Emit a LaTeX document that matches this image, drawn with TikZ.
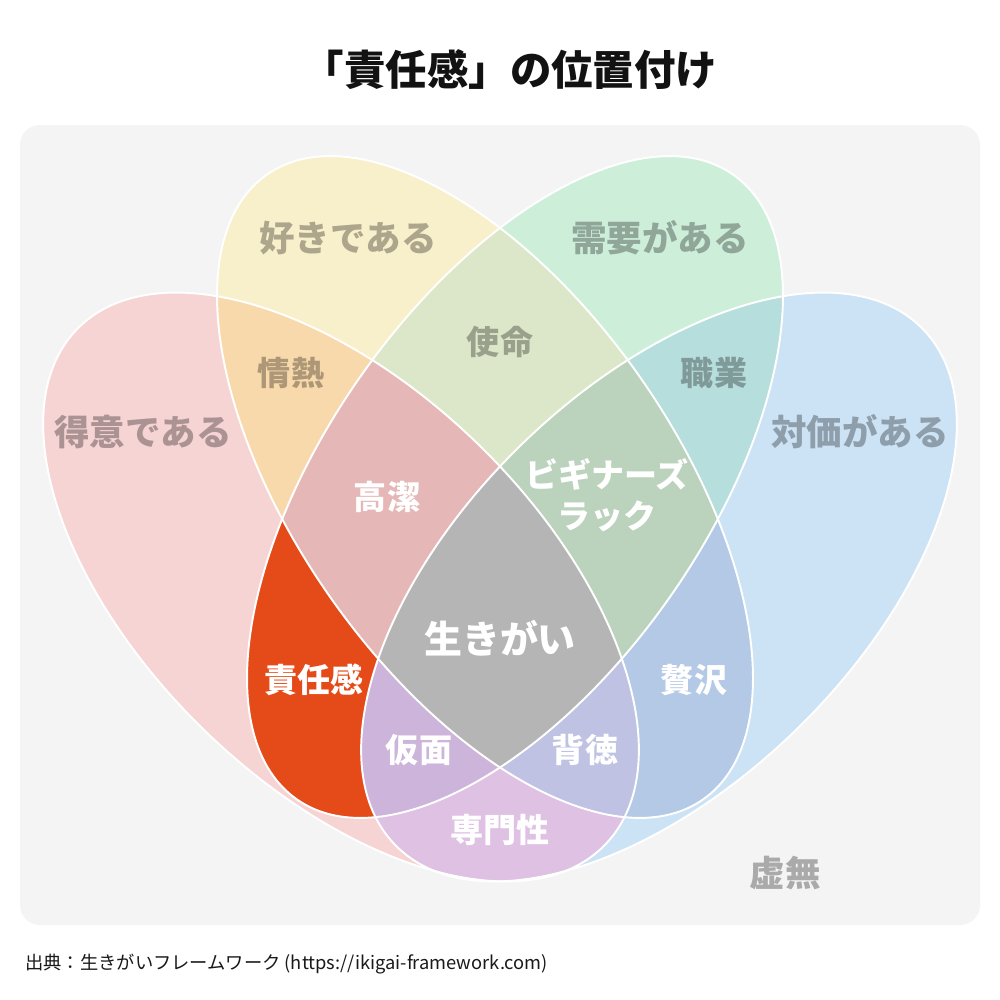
\documentclass[tikz,border=0pt]{standalone}
\usepackage{fontspec}
\setmainfont{Noto Sans CJK JP}

% 色
\definecolor{panel}{HTML}{F4F4F4}
\definecolor{colA}{HTML}{F7D4D4}
\definecolor{colB}{HTML}{F8EFCB}
\definecolor{colC}{HTML}{CDEFDA}
\definecolor{colD}{HTML}{CCE3F6}
\definecolor{colAB}{HTML}{F8D9AB}
\definecolor{colBC}{HTML}{DCE7C9}
\definecolor{colCD}{HTML}{B6DEDC}
\definecolor{colAC}{HTML}{E54B19}
\definecolor{colBD}{HTML}{B3C9E6}
\definecolor{colAD}{HTML}{DFC1E3}
\definecolor{colABC}{HTML}{E6B7B7}
\definecolor{colBCD}{HTML}{BBD2BC}
\definecolor{colACD}{HTML}{CCB4DA}
\definecolor{colABD}{HTML}{BFC2E2}
\definecolor{colABCD}{HTML}{B5B5B5}

% 四つの楕円（A 得意, B 好き, C 需要, D 対価）
\newcommand{\setA}[1]{\path[#1, rotate around={-44.4:(341,-587)}] (341,-587) ellipse [x radius=369, y radius=198];}
\newcommand{\setB}[1]{\path[#1, rotate around={-55.1:(485,-487)}] (485,-487) ellipse [x radius=381, y radius=190];}
\newcommand{\setC}[1]{\path[#1, rotate around={55.1:(515,-487)}] (515,-487) ellipse [x radius=381, y radius=190];}
\newcommand{\setD}[1]{\path[#1, rotate around={44.4:(659,-587)}] (659,-587) ellipse [x radius=369, y radius=198];}

\begin{document}
\begin{tikzpicture}[x=0.2mm, y=0.2mm,
    setlabel/.style={text=black, text opacity=0.3, font=\bfseries\fontsize{20.2}{24}\selectfont},
    pairlabel/.style={text=black, text opacity=0.3, font=\bfseries\fontsize{18.8}{23}\selectfont},
    keylabel/.style={text=white, align=center, font=\bfseries\fontsize{18.8}{23.3}\selectfont},
    outline/.style={draw=white, line width=1.1pt}]
  % 背景
  \fill[white] (0,0) rectangle (1000,-1000);
  \useasboundingbox (0,0) rectangle (1000,-1000);
  \fill[panel, rounded corners=11.4pt] (20,-125) rectangle (980,-925);

  % 各集合
  \setA{fill=colA}
  \setB{fill=colB}
  \setC{fill=colC}
  \setD{fill=colD}

  % 二つの重なり
  \begin{scope} \setA{clip} \setB{fill=colAB} \end{scope}
  \begin{scope} \setB{clip} \setC{fill=colBC} \end{scope}
  \begin{scope} \setC{clip} \setD{fill=colCD} \end{scope}
  \begin{scope} \setA{clip} \setC{fill=colAC} \end{scope}
  \begin{scope} \setB{clip} \setD{fill=colBD} \end{scope}
  \begin{scope} \setA{clip} \setD{fill=colAD} \end{scope}

  % 三つの重なり
  \begin{scope} \setA{clip} \setB{clip} \setC{fill=colABC} \end{scope}
  \begin{scope} \setB{clip} \setC{clip} \setD{fill=colBCD} \end{scope}
  \begin{scope} \setA{clip} \setC{clip} \setD{fill=colACD} \end{scope}
  \begin{scope} \setA{clip} \setB{clip} \setD{fill=colABD} \end{scope}

  % 四つすべて
  \begin{scope} \setA{clip} \setB{clip} \setC{clip} \setD{fill=colABCD} \end{scope}

  % 輪郭
  \setA{outline}
  \setB{outline}
  \setC{outline}
  \setD{outline}

  % タイトル
  \node[font=\bfseries\fontsize{23.6}{28}\selectfont, text=black!93] (title) at (510,-70) {「責任感」の位置付け};

  % ラベル
  \node[setlabel] (tokui) at (143,-432) {得意である};
  \node[setlabel] (suki)  at (348,-238) {好きである};
  \node[setlabel] (juyou) at (660,-238) {需要がある};
  \node[setlabel] (taika) at (860,-432) {対価がある};
  \node[pairlabel] (jounetsu)  at (291,-373) {情熱};
  \node[pairlabel] (shimei)    at (500,-342) {使命};
  \node[pairlabel] (shokugyou) at (714,-373) {職業};
  \node[keylabel] (kouketsu)  at (387,-497) {高潔};
  \node[keylabel] (beginners) at (607,-495) {ビギナーズ\\ラック};
  \node[keylabel, font=\bfseries\fontsize{21.6}{26}\selectfont] (ikigai) at (500,-638) {生きがい};
  \node[keylabel] (sekinin) at (314,-680) {責任感};
  \node[keylabel] (zeitaku) at (694,-680) {贅沢};
  \node[keylabel] (kamen)   at (419,-750) {仮面};
  \node[keylabel] (haitoku) at (585,-750) {背徳};
  \node[keylabel] (senmon)  at (500,-830) {専門性};
  \node[setlabel] (kyomu) at (785,-873) {虚無};

  % 出典
  \node[anchor=west, inner sep=0pt, text=black!90, font=\fontsize{10.4}{12}\selectfont] (source) at (25,-964) {出典：生きがいフレームワーク (https://ikigai-framework.com)};
\end{tikzpicture}
\end{document}
